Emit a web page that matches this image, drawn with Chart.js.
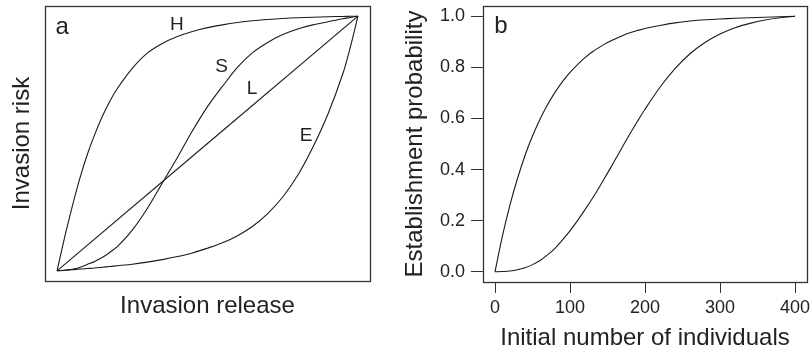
<!DOCTYPE html>
<html>
<head>
<meta charset="utf-8">
<script src="https://cdn.jsdelivr.net/npm/chart.js@4.4.1/dist/chart.umd.min.js"></script>
<style>
body { margin: 0; background: #fff; width: 812px; height: 353px; overflow: hidden; position: relative; }
canvas { position: absolute; top: 0; }
#riskChart { left: 0; }
#estChart { left: 400px; }
</style>
</head>
<body>
<canvas id="riskChart" width="400" height="353"></canvas>
<canvas id="estChart" width="412" height="353"></canvas>
<script>
// panel a: invasion risk vs release, shapes
var riskX = [0, 0.025, 0.05, 0.075, 0.1, 0.125, 0.15, 0.175, 0.2, 0.25, 0.3, 0.35, 0.4, 0.45, 0.5, 0.55, 0.6, 0.65, 0.7, 0.75, 0.8, 0.85, 0.9, 0.95, 0.975, 1];
var riskH = [0, 0.13, 0.25, 0.36, 0.455, 0.535, 0.605, 0.665, 0.715, 0.795, 0.855, 0.893, 0.92, 0.94, 0.955, 0.966, 0.975, 0.982, 0.987, 0.991, 0.994, 0.996, 0.998, 0.999, 0.9995, 1];
var riskS = [0, 0.002, 0.006, 0.013, 0.025, 0.037, 0.052, 0.072, 0.095, 0.16, 0.245, 0.345, 0.445, 0.55, 0.645, 0.725, 0.8, 0.857, 0.897, 0.928, 0.95, 0.966, 0.978, 0.99, 0.995, 1];
var riskE = [0, 0.002, 0.004, 0.007, 0.009, 0.011, 0.014, 0.017, 0.02, 0.026, 0.034, 0.044, 0.056, 0.07, 0.089, 0.11, 0.138, 0.175, 0.225, 0.29, 0.375, 0.485, 0.615, 0.775, 0.88, 1];
var lineX = [0, 1];
var riskL = [0, 1];

// panel b: establishment probability vs initial number
var popX = [0, 10, 20, 30, 40, 50, 60, 70, 80, 90, 100, 110, 120, 130, 140, 150, 160, 170, 180, 190, 200, 220, 240, 260, 280, 300, 320, 340, 360, 380, 400];
var estHigh = [0, 0.141, 0.262, 0.365, 0.455, 0.531, 0.597, 0.654, 0.702, 0.744, 0.780, 0.811, 0.838, 0.861, 0.880, 0.897, 0.911, 0.924, 0.935, 0.944, 0.952, 0.964, 0.974, 0.981, 0.986, 0.989, 0.992, 0.994, 0.996, 0.998, 1.0];
var estLow = [0, 0.001, 0.003, 0.008, 0.016, 0.028, 0.044, 0.066, 0.092, 0.125, 0.16, 0.2, 0.243, 0.288, 0.336, 0.386, 0.437, 0.489, 0.54, 0.589, 0.636, 0.722, 0.795, 0.853, 0.897, 0.93, 0.955, 0.972, 0.985, 0.994, 1.0];
var popTicks = [0, 100, 200, 300, 400];
var probTicks = [0, 0.2, 0.4, 0.6, 0.8, 1.0];

var FONT = '"Liberation Sans", Arial, Helvetica, sans-serif';
Chart.defaults.font.family = FONT;
Chart.defaults.color = '#222';

function pts(xs, ys) {
    return xs.map(function(x, i) { return {x: x, y: ys[i]}; });
}

function curve(xs, ys) {
    return {
        data: pts(xs, ys),
        borderColor: '#1a1a1a',
        borderWidth: 1.1,
        pointRadius: 0,
        fill: false,
        tension: 0.3
    };
}

function fixSize(size) {
    return function(s) {
        if (s.isHorizontal()) s.height = size; else s.width = size;
        s.paddingLeft = s.paddingRight = s.paddingTop = s.paddingBottom = 0;
    };
}

// box round the plot area plus the letters inside it
var frame = {
    id: 'frame',
    afterDatasetsDraw: function(chart, args, opts) {
        var a = chart.chartArea, ctx = chart.ctx;
        ctx.save();
        ctx.strokeStyle = '#333';
        ctx.lineWidth = 1.3;
        ctx.strokeRect(Math.round(a.left) + 0.5, Math.round(a.top) + 0.5,
            Math.round(a.right - a.left), Math.round(a.bottom - a.top));
        ctx.fillStyle = '#222';
        ctx.textAlign = 'center';
        ctx.textBaseline = 'middle';
        (opts.labels || []).forEach(function(l) {
            ctx.font = l.size + 'px ' + FONT;
            ctx.fillText(l.text, chart.scales.x.getPixelForValue(l.x), chart.scales.y.getPixelForValue(l.y));
        });
        ctx.restore();
    }
};

new Chart(document.getElementById('riskChart'), {
    type: 'line',
    data: {
        datasets: [
            curve(riskX, riskH),
            curve(riskX, riskS),
            curve(lineX, riskL),
            curve(riskX, riskE)
        ]
    },
    plugins: [frame],
    options: {
        responsive: false,
        animation: false,
        devicePixelRatio: 1,
        layout: {padding: {left: 0, right: 30, top: 6, bottom: 0}},
        plugins: {
            legend: {display: false},
            tooltip: {enabled: false},
            frame: {labels: [
                {text: 'a', x: 0.017, y: 0.955, size: 24},
                {text: 'H', x: 0.398, y: 0.965, size: 19},
                {text: 'S', x: 0.547, y: 0.800, size: 19},
                {text: 'L', x: 0.648, y: 0.715, size: 19},
                {text: 'E', x: 0.828, y: 0.532, size: 19}
            ]}
        },
        scales: {
            x: {
                type: 'linear', min: -0.04, max: 1.04,
                ticks: {display: false},
                grid: {display: false},
                border: {display: false},
                title: {display: true, text: 'Invasion release', font: {size: 24}, padding: {top: 0, bottom: 32}},
                afterFit: fixSize(72)
            },
            y: {
                type: 'linear', min: -0.04, max: 1.04,
                ticks: {display: false},
                grid: {display: false},
                border: {display: false},
                title: {display: true, text: 'Invasion risk', font: {size: 24}, padding: {top: 8, bottom: 0}},
                afterFit: fixSize(45)
            }
        }
    }
});

new Chart(document.getElementById('estChart'), {
    type: 'line',
    data: {
        datasets: [
            curve(popX, estHigh),
            curve(popX, estLow)
        ]
    },
    plugins: [frame],
    options: {
        responsive: false,
        animation: false,
        devicePixelRatio: 1,
        layout: {padding: {left: 0, right: 5, top: 6, bottom: 0}},
        plugins: {
            legend: {display: false},
            tooltip: {enabled: false},
            frame: {labels: [
                {text: 'b', x: 8, y: 0.96, size: 24}
            ]}
        },
        scales: {
            x: {
                type: 'linear', min: -16, max: 416,
                afterBuildTicks: function(s) { s.ticks = popTicks.map(function(v) { return {value: v}; }); },
                ticks: {font: {size: 18}, padding: 4, maxRotation: 0, autoSkip: false,
                    callback: function(v) { return String(v); }},
                grid: {display: true, drawOnChartArea: false, drawTicks: true, tickLength: 11, color: '#333'},
                border: {display: false},
                title: {display: true, text: 'Initial number of individuals', font: {size: 24}, padding: {top: 0, bottom: 0}},
                afterFit: fixSize(71)
            },
            y: {
                type: 'linear', min: -0.04, max: 1.04,
                afterBuildTicks: function(s) { s.ticks = probTicks.map(function(v) { return {value: v}; }); },
                ticks: {font: {size: 18}, padding: 6, autoSkip: false,
                    callback: function(v) { return v.toFixed(1); }},
                grid: {display: true, drawOnChartArea: false, drawTicks: true, tickLength: 12, color: '#333'},
                border: {display: false},
                title: {display: true, text: 'Establishment probability', font: {size: 24}, padding: {top: 1, bottom: 0}},
                afterFit: fixSize(83)
            }
        }
    }
});
</script>
</body>
</html>
